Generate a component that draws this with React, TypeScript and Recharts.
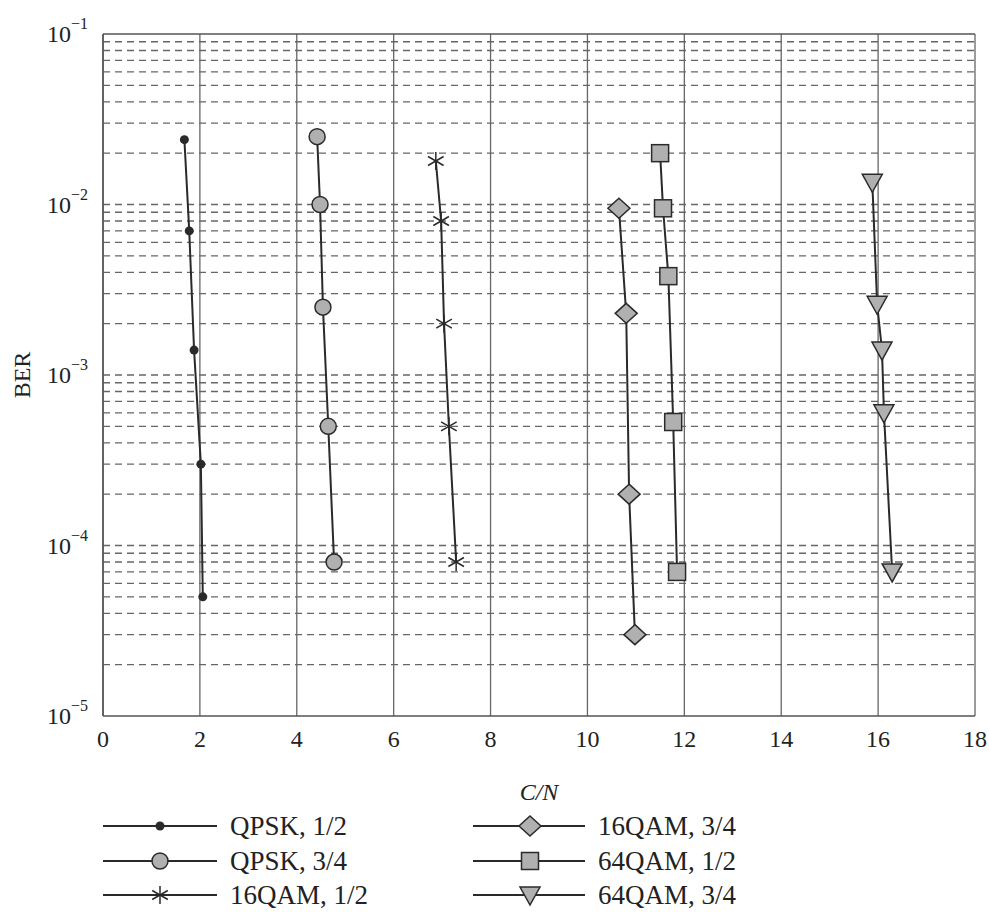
import React from 'react';
import { LineChart, Line, XAxis, YAxis, CartesianGrid, ReferenceLine } from 'recharts';

const xTicks = [0, 2, 4, 6, 8, 10, 12, 14, 16, 18];
const yTicks = [1e-5, 1e-4, 1e-3, 1e-2, 1e-1];
const gridMantissas = [1, 2, 3, 4, 5, 6, 7, 8, 9];
const gridDecades = [1e-5, 1e-4, 1e-3, 1e-2];

const qpsk12CN = [1.68, 1.78, 1.88, 2.02, 2.06];
const qpsk12BER = [2.4e-2, 7e-3, 1.4e-3, 3e-4, 5e-5];
const qpsk34CN = [4.42, 4.48, 4.54, 4.65, 4.77];
const qpsk34BER = [2.5e-2, 1e-2, 2.5e-3, 5e-4, 8e-5];
const qam16r12CN = [6.87, 6.98, 7.04, 7.14, 7.29];
const qam16r12BER = [1.8e-2, 8e-3, 2e-3, 5e-4, 8e-5];
const qam16r34CN = [10.65, 10.8, 10.86, 10.98];
const qam16r34BER = [9.5e-3, 2.3e-3, 2e-4, 3e-5];
const qam64r12CN = [11.5, 11.56, 11.67, 11.77, 11.85];
const qam64r12BER = [2e-2, 9.5e-3, 3.8e-3, 5.3e-4, 7e-5];
const qam64r34CN = [15.88, 15.98, 16.08, 16.12, 16.29];
const qam64r34BER = [1.35e-2, 2.6e-3, 1.4e-3, 6e-4, 7e-5];

const seriesNames = ['QPSK, 1/2', 'QPSK, 3/4', '16QAM, 1/2', '16QAM, 3/4', '64QAM, 1/2', '64QAM, 3/4'];

const toRows = (cn: number[], ber: number[]) => cn.map((c, i) => ({ cn: c, ber: ber[i] }));

const series = [
  { name: seriesNames[0], marker: 'dot', data: toRows(qpsk12CN, qpsk12BER) },
  { name: seriesNames[1], marker: 'circle', data: toRows(qpsk34CN, qpsk34BER) },
  { name: seriesNames[2], marker: 'star', data: toRows(qam16r12CN, qam16r12BER) },
  { name: seriesNames[3], marker: 'diamond', data: toRows(qam16r34CN, qam16r34BER) },
  { name: seriesNames[4], marker: 'square', data: toRows(qam64r12CN, qam64r12BER) },
  { name: seriesNames[5], marker: 'triangle', data: toRows(qam64r34CN, qam64r34BER) },
];

// dashed grid at every mantissa of every decade (the outer decades are the frame)
const dashedLevels = gridDecades
  .flatMap((d) => gridMantissas.map((m) => m * d))
  .filter((v) => v > 1.5e-5);

const FONT = "'Liberation Serif', serif";
const GREY = '#b0b0b0';
const INK = '#2a2a2a';
const txt = { fontFamily: FONT };

const Marker = ({ type, cx, cy }: { type: string; cx: number; cy: number }) => {
  switch (type) {
    case 'dot':
      return <circle cx={cx} cy={cy} r={4.5} fill={INK} />;
    case 'circle':
      return <circle cx={cx} cy={cy} r={8} fill={GREY} stroke={INK} strokeWidth={1.5} />;
    case 'star':
      return (
        <g stroke={INK} strokeWidth={1.5}>
          <line x1={cx} y1={cy - 9} x2={cx} y2={cy + 9} />
          <line x1={cx - 7.8} y1={cy - 4.5} x2={cx + 7.8} y2={cy + 4.5} />
          <line x1={cx - 7.8} y1={cy + 4.5} x2={cx + 7.8} y2={cy - 4.5} />
        </g>
      );
    case 'diamond':
      return (
        <polygon
          points={`${cx},${cy - 10} ${cx + 11},${cy} ${cx},${cy + 10} ${cx - 11},${cy}`}
          fill={GREY} stroke={INK} strokeWidth={1.5}
        />
      );
    case 'square':
      return <rect x={cx - 8.5} y={cy - 8.5} width={17} height={17} fill={GREY} stroke={INK} strokeWidth={1.5} />;
    case 'triangle':
      return (
        <polygon
          points={`${cx - 10},${cy - 8} ${cx + 10},${cy - 8} ${cx},${cy + 10}`}
          fill={GREY} stroke={INK} strokeWidth={1.5}
        />
      );
    default:
      return null;
  }
};

const YTick = ({ x, y, payload }: any) => {
  const exp = Math.round(Math.log10(payload.value));
  return (
    <text x={x} y={y + 8} textAnchor="end" style={txt} fontSize={24} fill="#222">
      10
      <tspan dy={-13} fontSize={16}>{'\u2212' + Math.abs(exp)}</tspan>
    </text>
  );
};

const XTick = ({ x, y, payload }: any) => (
  <text x={x} y={y + 23} textAnchor="middle" style={txt} fontSize={24} fill="#222">
    {payload.value}
  </text>
);

const LegendBlock = () => {
  const cols = [
    { x1: 103, x2: 217, mx: 160, tx: 230 },
    { x1: 473, x2: 585, mx: 530, tx: 598 },
  ];
  const rows = [26, 61, 95];
  return (
    <svg width={989} height={112} style={{ position: 'absolute', left: 0, top: 800 }}>
      {series.map((s, i) => {
        const c = cols[Math.floor(i / 3)];
        const y = rows[i % 3];
        return (
          <g key={s.name}>
            <line x1={c.x1} x2={c.x2} y1={y} y2={y} stroke={INK} strokeWidth={2} />
            <Marker type={s.marker} cx={c.mx} cy={y} />
            <text x={c.tx} y={y + 9} style={txt} fontSize={27} fill="#222">{s.name}</text>
          </g>
        );
      })}
    </svg>
  );
};

export default function App() {
  return (
    <div style={{ position: 'relative', width: 989, height: 912, overflow: 'hidden' }}>
      <style>{'html,body{margin:0;padding:0;overflow:hidden;background:#fff}'}</style>
      <LineChart width={989} height={812} margin={{ top: 34, right: 14, bottom: 26, left: 23 }}>
        <CartesianGrid horizontal={false} stroke="#666" strokeWidth={1.3} />
        {dashedLevels.map((v) => (
          <ReferenceLine key={v} y={v} stroke="#666" strokeWidth={1.4} strokeDasharray="7 5" />
        ))}
        <ReferenceLine y={1e-1} stroke="#555" strokeWidth={1.6} />
        <XAxis
          type="number"
          dataKey="cn"
          domain={[0, 18]}
          ticks={xTicks}
          allowDataOverflow
          height={70}
          stroke="#555"
          strokeWidth={1.6}
          tickSize={0}
          tickMargin={8}
          tick={<XTick />}
          label={({ viewBox }: any) => (
            <text
              x={viewBox.x + viewBox.width / 2}
              y={viewBox.y + 84}
              textAnchor="middle"
              style={txt}
              fontSize={24}
              fontStyle="italic"
              fill="#222"
            >
              C/N
            </text>
          )}
        />
        <YAxis
          type="number"
          dataKey="ber"
          scale="log"
          domain={[1e-5, 1e-1]}
          ticks={yTicks}
          allowDataOverflow
          width={80}
          stroke="#555"
          strokeWidth={1.6}
          tickSize={0}
          tickMargin={15}
          tick={<YTick />}
          label={({ viewBox }: any) => (
            <text
              x={22}
              y={viewBox.y + viewBox.height / 2}
              transform={`rotate(-90 22 ${viewBox.y + viewBox.height / 2})`}
              textAnchor="middle"
              dominantBaseline="central"
              style={txt}
              fontSize={24}
              fill="#222"
            >
              BER
            </text>
          )}
        />
        {series.map((s) => (
          <Line
            key={s.name}
            data={s.data}
            dataKey="ber"
            name={s.name}
            type="linear"
            stroke={INK}
            strokeWidth={2}
            isAnimationActive={false}
            dot={(p: any) => <Marker key={`${s.name}-${p.index}`} type={s.marker} cx={p.cx} cy={p.cy} />}
            activeDot={false}
          />
        ))}
      </LineChart>
      <LegendBlock />
    </div>
  );
}
